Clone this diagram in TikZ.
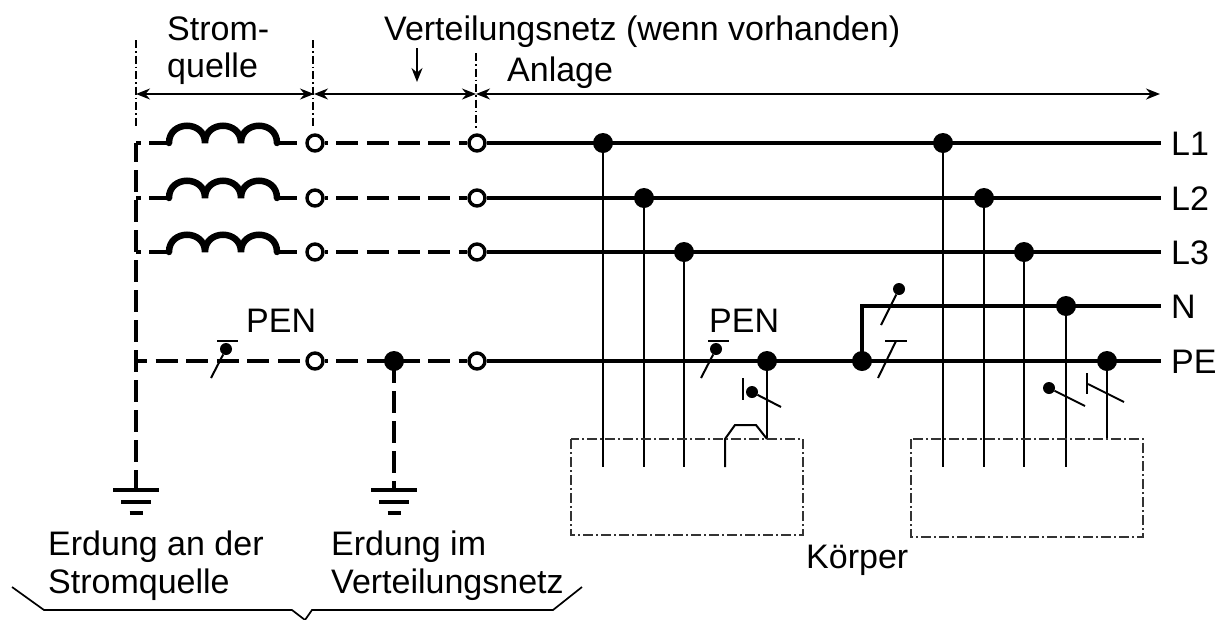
\documentclass[tikz,border=0pt]{standalone}
\usepackage{fontspec}
\setmainfont{Liberation Sans}
\usetikzlibrary{arrows.meta,calc}
\tikzset{
    bus/.style={line width=3.8pt},
    buslink/.style={line width=3.6pt,dash pattern=on 22pt off 8.6pt},
    drop/.style={line width=3.6pt,dash pattern=on 22pt off 8pt},
    tap/.style={line width=2pt},
    extent/.style={line width=1.7pt,>={Stealth[length=14pt,width=11pt]}},
    frontier/.style={line width=1.6pt,dash pattern=on 8pt off 3pt on 1.5pt off 3pt},
    casing/.style={line width=1.7pt,draw=black!80,dash pattern=on 10pt off 3pt on 2pt off 3pt},
    terminal/.style={circle,draw,line width=3.4pt,fill=white,minimum size=16pt,inner sep=0pt},
    joint/.style={circle,fill=black,minimum size=20pt,inner sep=0pt},
    pole/.style={circle,fill=black,minimum size=12pt,inner sep=0pt},
    txt/.style={font=\fontsize{34}{34}\selectfont,inner sep=0pt,anchor=base west}
}

\begin{document}
\begin{tikzpicture}[x=1pt,y=-1pt]

    \useasboundingbox (0,0) rectangle (1229,619);

    % phase rows of the source
    \foreach \row/\ypos in {1/143,2/198,3/252} {
        \coordinate (stub\row) at (136,\ypos);
        \coordinate (coilA\row) at (149,\ypos);
        \coordinate (coilB\row) at (297,\ypos);
        \draw[bus] (coilA\row) -- ++(20,0);
        \draw[bus] (277,\ypos) -- (coilB\row);
        \draw[line width=6.5pt,line cap=round] (169,\ypos) .. controls +(0,-23) and +(0,-23) .. ++(36,0)
            .. controls +(0,-23) and +(0,-23) .. ++(36,0)
            .. controls +(0,-23) and +(0,-23) .. ++(36,0);
        \draw[bus] (stub\row) -- ++(5,0);
        \node[terminal] (src\row) at (315,\ypos) {};
        \node[terminal] (net\row) at (477,\ypos) {};
        \draw[buslink,dash phase=19pt] (src\row.east) -- (net\row.west);
        \draw[bus] (net\row.east) -- (1161,\ypos) coordinate (end\row);
    }

    % PE row
    \coordinate (stub4) at (136,361);
    \coordinate (gndA) at (136,490);
    \coordinate (gndB) at (394,490);
    \node[terminal] (src4) at (315,361) {};
    \node[terminal] (net4) at (477,361) {};
    \node[joint] (earth) at (394,361) {};
    \draw[buslink,dash phase=11pt] (stub4) -- (src4.west);
    \draw[buslink,dash phase=19pt] (src4.east) -- (net4.west);
    \draw[bus] (net4.east) -- (1161,361) coordinate (end4);
    \draw[drop,dash phase=3pt] (136,143) -- (gndA);
    \draw[drop] (earth.center) -- (gndB);

    % earth symbols
    \foreach \xpos in {136,394} {
        \draw[line width=3.4pt] (\xpos-23,490) -- (\xpos+23,490);
        \draw[line width=3.4pt] (\xpos-15,502) -- (\xpos+15,502);
        \draw[line width=3.4pt] (\xpos-6.5,513) -- (\xpos+6.5,513);
    }

    % neutral
    \node[joint] (link) at (862,361) {};
    \draw[line width=3.8pt] (link.center) -- (862,306) -- (1161,306) coordinate (end5);

    % dots and taps
    \foreach \name/\xpos/\ypos/\yend in {a/603/143/467,b/644/198/467,c/684/252/467,
        d/943/143/467,e/984/198/467,f/1024/252/467,g/1066/306/467,h/1107/361/439,i/767/361/439} {
        \node[joint] (dot\name) at (\xpos,\ypos) {};
        \draw[tap] (dot\name) -- (\xpos,\yend) coordinate (tip\name);
    }
    \coordinate (hopA) at (725,439);
    \draw[tap] (tipi) -- (756,425) -- (735,425) -- (hopA) -- (725,467);

    % casings
    \draw[casing] (571,439) rectangle (803,535);
    \draw[casing] (911,439) rectangle (1143,537);

    % switching marks
    \node[pole] (penA) at (226,349) {};
    \draw[tap] (penA) -- (211,378);
    \draw[tap] (217,341) -- (238,341);
    \node[pole] (penB) at (716,349) {};
    \draw[tap] (penB) -- (701,378);
    \draw[tap] (708,341) -- (729,341);
    \node[pole] (penC) at (752,392) {};
    \draw[tap] (penC) -- (781,407);
    \draw[tap] (743,378) -- (743,400);
    \node[pole] (neuA) at (899,289) {};
    \draw[tap] (neuA) -- (881,325);
    \draw[tap] (885,341) -- (907,341);
    \draw[tap] (896,341) -- (878,378);
    \node[pole] (neuB) at (1049,388) {};
    \draw[tap] (neuB) -- (1085,406);
    \draw[tap] (1087,373) -- (1087,394);
    \draw[tap] (1088,384) -- (1124,402);

    % limits and extents
    \draw[frontier] (136,40) -- (136,126);
    \draw[frontier] (313,40) -- (313,126);
    \draw[frontier] (476,53) -- (476,128);
    \coordinate (limA) at (136,94);
    \coordinate (limB) at (314,94);
    \coordinate (limC) at (476,94);
    \coordinate (limD) at (1160,94);
    \draw[<->,extent] (limA) -- (limB);
    \draw[<->,extent] (limB) -- (limC);
    \draw[<->,extent] (limC) -- (limD);
    \coordinate (netTop) at (417,48);
    \draw[->,extent] (netTop) -- (417,82);

    % brace
    \draw[line width=1.7pt] (12,587) -- (44,610) -- (292,610) -- (305,620) -- (312,610) -- (553,610) -- (582,587);

    % labels
    \node[txt] (lblSrcA) at (167,40) {Strom-};
    \node[txt] (lblSrcB) at (167,77) {quelle};
    \node[txt] (lblNet) at (384,40) {Verteilungsnetz (wenn vorhanden)};
    \node[txt] (lblPlant) at (507,81) {Anlage};
    \node[txt] (lblPenA) at (246,332) {PEN};
    \node[txt] (lblPenB) at (709,332) {PEN};
    \node[txt] (lblL1) at (1171,155) {L1};
    \node[txt] (lblL2) at (1171,210) {L2};
    \node[txt] (lblL3) at (1171,264) {L3};
    \node[txt] (lblN) at (1171,318) {N};
    \node[txt] (lblPE) at (1171,373) {PE};
    \node[txt] (lblEarthA) at (48,555) {Erdung an der};
    \node[txt] (lblEarthB) at (48,593) {Stromquelle};
    \node[txt] (lblEarthC) at (331,555) {Erdung im};
    \node[txt] (lblEarthD) at (331,593) {Verteilungsnetz};
    \node[txt] (lblBody) at (806,568) {Körper};

\end{tikzpicture}
\end{document}
